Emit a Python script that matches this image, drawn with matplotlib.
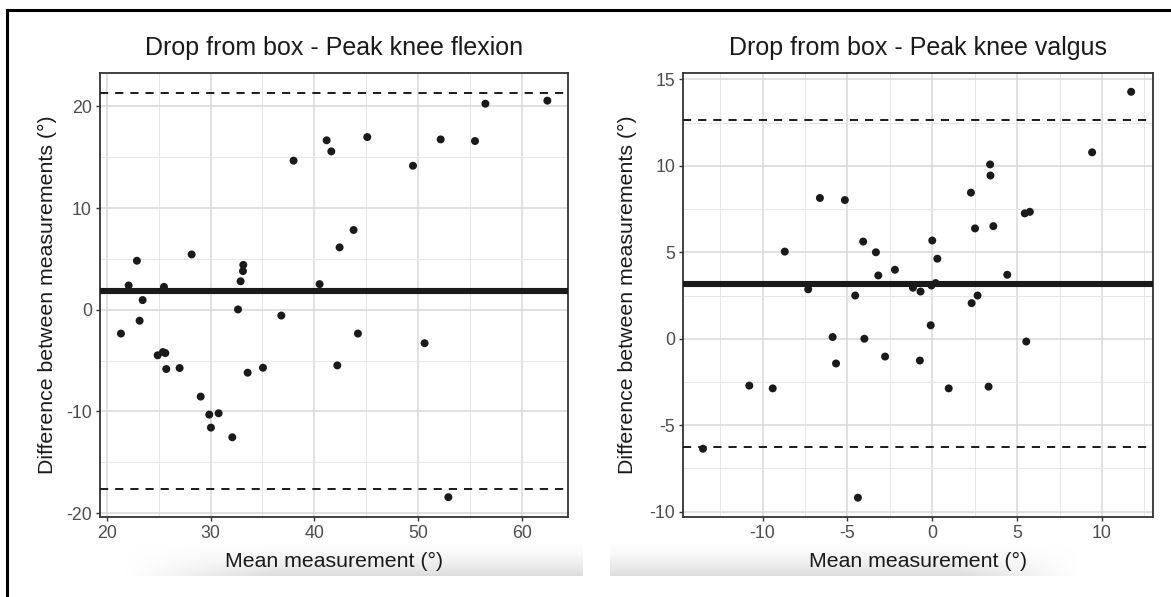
import numpy as np
import matplotlib
matplotlib.use("Agg")
import matplotlib.pyplot as plt
from matplotlib.lines import Line2D
from matplotlib.ticker import MultipleLocator

plt.rcParams['font.family'] = ['Liberation Sans', 'DejaVu Sans']
plt.rcParams['axes.unicode_minus'] = False

# ---------------- data ----------------
flex_mean = [62.48, 56.5, 55.5, 52.19, 49.52, 45.11, 41.19, 41.64, 38.0, 43.79,
             42.44, 40.51, 36.82, 32.64, 32.89, 33.12, 33.15, 28.17, 25.5, 22.89,
             22.09, 23.44, 23.15, 21.35, 24.89, 25.40, 25.63, 25.72, 27.01, 29.04,
             29.87, 30.77, 30.03, 32.09, 33.57, 35.05, 42.22, 44.21, 50.64, 52.93]
flex_diff = [20.56, 20.26, 16.59, 16.75, 14.16, 16.98, 16.66, 15.57, 14.66, 7.84,
             6.13, 2.52, -0.57, 0.03, 2.80, 3.80, 4.41, 5.44, 2.25, 4.82,
             2.39, 0.95, -1.08, -2.34, -4.48, -4.16, -4.26, -5.83, -5.73, -8.54,
             -10.31, -10.18, -11.59, -12.54, -6.19, -5.70, -5.47, -2.34, -3.29, -18.43]
flex_bias = 1.84
flex_loa = [-17.66, 21.34]

valg_mean = [11.72, 9.42, 3.41, 3.43, 2.28, 2.52, 3.60, 5.45, 5.75, 4.42,
             2.67, 2.32, 0.0, 0.30, 0.20, -0.05, -0.09, -0.69, -1.14, -2.20,
             -3.18, -3.32, -4.07, -4.54, -5.15, -6.62, -7.31, -8.69, -5.87, -4.00,
             -5.67, -2.78, -0.73, 5.54, 0.97, 3.32, -10.78, -9.40, -13.51, -4.38]
valg_diff = [14.28, 10.78, 10.08, 9.44, 8.45, 6.38, 6.51, 7.25, 7.34, 3.70,
             2.50, 2.06, 5.68, 4.63, 3.22, 3.08, 0.78, 2.73, 2.95, 3.99,
             3.66, 5.00, 5.62, 2.50, 8.02, 8.14, 2.86, 5.04, 0.10, 0.0,
             -1.43, -1.03, -1.26, -0.16, -2.87, -2.77, -2.71, -2.87, -6.36, -9.19]
valg_bias = 3.18
valg_loa = [-6.27, 12.63]

titles = ["Drop from box - Peak knee flexion", "Drop from box - Peak knee valgus"]
xlab = "Mean measurement (°)"
ylab = "Difference between measurements (°)"

W, H = 1171, 597
fig = plt.figure(figsize=(W / 100, H / 100), dpi=100)
fig.patch.set_facecolor('white')


def fx(px):
    return px / W


def fy(py):
    return 1 - py / H


# soft grey shadow bands under the x labels
def band(x0, x1, y0, y1, fade_left=None, fade_right=None):
    ax = fig.add_axes([fx(x0), fy(y1), fx(x1 - x0), (y1 - y0) / H], zorder=-5)
    ax.set_axis_off()
    nx, ny = 400, 60
    xs = np.linspace(x0, x1, nx)
    ys = np.linspace(0, 1, ny)  # 0 top -> 1 bottom
    a_y = ys ** 1.6
    a_x = np.ones(nx)
    if fade_left is not None:
        a_x = np.clip((xs - x0) / (fade_left - x0), 0, 1)
    if fade_right is not None:
        a_x = np.clip((x1 - xs) / (x1 - fade_right), 0, 1)
    alpha = a_y[:, None] * a_x[None, :]
    img = np.zeros((ny, nx, 4))
    img[..., :3] = 0.87
    img[..., 3] = alpha
    ax.imshow(img, aspect='auto', extent=(0, 1, 0, 1), interpolation='bilinear')


band(125, 583, 541, 576, fade_left=270)
band(610, 1080, 541, 576, fade_right=960)

# frame lines (top and left)
fig.add_artist(Line2D([fx(6.5), fx(6.5)], [0, fy(10)], color='black', lw=2.2))
fig.add_artist(Line2D([fx(6.5), 1], [fy(10), fy(10)], color='black', lw=2.2))

panels = [
    dict(rect=[fx(99.7), fy(516.7), fx(568.3 - 99.7), (516.7 - 73.3) / H],
         x=flex_mean, y=flex_diff, bias=flex_bias, loa=flex_loa,
         xlim=(19.3, 64.5), ylim=(-20.35, 23.25), xmaj=10, ymaj=10, title=titles[0],
         ylabx=-0.112),
    dict(rect=[fx(683.3), fy(516.7), fx(1152.7 - 683.3), (516.7 - 73.3) / H],
         x=valg_mean, y=valg_diff, bias=valg_bias, loa=valg_loa,
         xlim=(-14.67, 12.99), ylim=(-10.29, 15.35), xmaj=5, ymaj=5, title=titles[1],
         ylabx=-0.12),
]

for p in panels:
    ax = fig.add_axes(p['rect'])
    ax.set_xlim(*p['xlim'])
    ax.set_ylim(*p['ylim'])
    ax.xaxis.set_major_locator(MultipleLocator(p['xmaj']))
    ax.yaxis.set_major_locator(MultipleLocator(p['ymaj']))
    ax.xaxis.set_minor_locator(MultipleLocator(p['xmaj'] / 2))
    ax.yaxis.set_minor_locator(MultipleLocator(p['ymaj'] / 2))
    ax.grid(which='major', color='#d9d9d9', lw=1.1, zorder=0)
    ax.grid(which='minor', color='#e6e6e6', lw=0.7, zorder=0)
    ax.set_axisbelow(True)
    ax.tick_params(which='minor', length=0)
    ax.tick_params(which='major', length=3.2, width=1.0, color='#333333',
                   labelsize=12.8, labelcolor='#4d4d4d', pad=2.5)
    for s in ax.spines.values():
        s.set_color('#333333')
        s.set_linewidth(1.3)
    ax.axhline(p['bias'], color='#1a1a1a', lw=4.4, zorder=3)
    for v in p['loa']:
        ax.axhline(v, color='#1a1a1a', lw=1.4, dashes=(4.2, 3.6), zorder=3)
    ax.scatter(p['x'], p['y'], s=33, color='#1a1a1a', edgecolors='none', zorder=4)
    ax.set_title(p['title'], fontsize=18, color='#1a1a1a', pad=13)
    ax.set_xlabel(xlab, fontsize=15.3, color='#1a1a1a')
    ax.xaxis.set_label_coords(0.5, -(566.7 - 516.7) / 443.4)
    ax.xaxis.label.set_va('baseline')
    ax.set_ylabel(ylab, fontsize=15.3, color='#1a1a1a')
    ax.yaxis.set_label_coords(p['ylabx'], 0.5)
    ax.yaxis.label.set_va('center')
    ax.yaxis.label.set_ha('center')

fig.savefig('out.png', dpi=100)
